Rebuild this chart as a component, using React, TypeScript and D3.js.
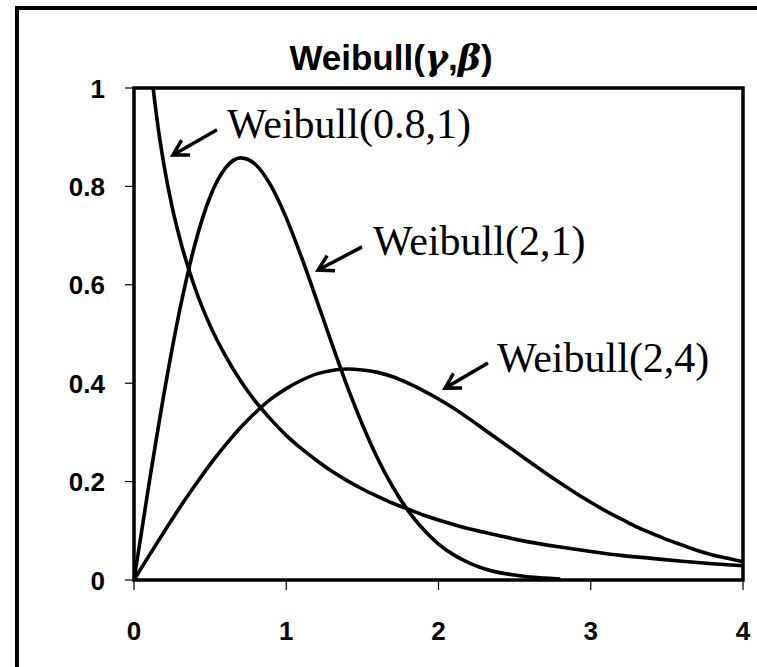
import React from "react";
import * as d3 from "d3";

// ---- data ----
const xTicks = [0, 1, 2, 3, 4];
const yTicks = [0, 0.2, 0.4, 0.6, 0.8, 1];
const yTickLabels = ["0", "0.2", "0.4", "0.6", "0.8", "1"];

const w08_1_x = [0.05, 0.1, 0.15, 0.2, 0.25, 0.3, 0.4, 0.5, 0.6, 0.7, 0.8, 0.9, 1.0, 1.1, 1.2, 1.3, 1.4, 1.5, 1.6, 1.7, 1.8, 1.9, 2.0, 2.2, 2.4, 2.6, 2.8, 3.0, 3.2, 3.4, 3.6, 3.8, 4.0];
const w08_1_y = [1.33, 1.082, 0.939, 0.838, 0.759, 0.695, 0.594, 0.517, 0.456, 0.405, 0.362, 0.326, 0.294, 0.267, 0.243, 0.221, 0.202, 0.185, 0.170, 0.156, 0.144, 0.132, 0.122, 0.104, 0.090, 0.077, 0.067, 0.058, 0.050, 0.044, 0.038, 0.033, 0.029];

const w2_1_x = [0, 0.1, 0.2, 0.3, 0.4, 0.5, 0.6, 0.7, 0.8, 0.9, 1.0, 1.1, 1.2, 1.3, 1.4, 1.5, 1.6, 1.7, 1.8, 1.9, 2.0, 2.1, 2.2, 2.3, 2.4, 2.5, 2.6, 2.7, 2.8];
const w2_1_y = [0, 0.198, 0.384, 0.548, 0.682, 0.779, 0.837, 0.858, 0.844, 0.801, 0.736, 0.656, 0.569, 0.480, 0.394, 0.316, 0.247, 0.189, 0.141, 0.103, 0.073, 0.051, 0.035, 0.023, 0.015, 0.010, 0.006, 0.004, 0.002];

const w2_4_x = [0, 0.1, 0.2, 0.3, 0.4, 0.5, 0.6, 0.7, 0.8, 0.9, 1.0, 1.1, 1.2, 1.3, 1.4, 1.5, 1.6, 1.7, 1.8, 1.9, 2.0, 2.1, 2.2, 2.3, 2.4, 2.5, 2.6, 2.7, 2.8, 2.9, 3.0, 3.1, 3.2, 3.3, 3.4, 3.5, 3.6, 3.7, 3.8, 3.9, 4.0];
const w2_4_y = [0, 0.050, 0.099, 0.147, 0.192, 0.235, 0.274, 0.310, 0.341, 0.368, 0.389, 0.406, 0.419, 0.426, 0.429, 0.427, 0.422, 0.413, 0.400, 0.385, 0.368, 0.349, 0.328, 0.306, 0.284, 0.262, 0.240, 0.218, 0.197, 0.177, 0.158, 0.140, 0.124, 0.108, 0.095, 0.082, 0.071, 0.060, 0.051, 0.044, 0.037];

const seriesNames = ["Weibull(0.8,1)", "Weibull(2,1)", "Weibull(2,4)"];
// annotation anchors in data units: text start, arrow tail, arrow tip
const labelX = [0.611, 1.570, 2.384];
const labelY = [0.898, 0.661, 0.423];
const tailX = [0.545, 1.498, 2.325];
const tailY = [0.915, 0.677, 0.441];
const tipX = [0.256, 1.209, 2.043];
const tipY = [0.864, 0.630, 0.390];

const W = 757;
const H = 667;
const left = 134, right = 743, top = 88, bottom = 580;

export default function App() {
  const x = d3.scaleLinear().domain([0, 4]).range([left, right]);
  const y = d3.scaleLinear().domain([0, 1]).range([bottom, top]);

  const series = [
    w08_1_x.map((v, i) => [v, w08_1_y[i]] as [number, number]),
    w2_1_x.map((v, i) => [v, w2_1_y[i]] as [number, number]),
    w2_4_x.map((v, i) => [v, w2_4_y[i]] as [number, number]),
  ];
  const line = d3
    .line<[number, number]>()
    .x((d) => x(d[0]))
    .y((d) => y(d[1]))
    .curve(d3.curveMonotoneX);

  const sans = "'Liberation Sans', Arial, sans-serif";
  const serif = "'Liberation Serif', 'Times New Roman', serif";

  const arrowHead = (tx: number, ty: number, sx: number, sy: number) => {
    const ang = Math.atan2(sy - ty, sx - tx);
    const len = 17;
    const spread = Math.PI / 6;
    const p1 = [tx + len * Math.cos(ang + spread), ty + len * Math.sin(ang + spread)];
    const p2 = [tx + len * Math.cos(ang - spread), ty + len * Math.sin(ang - spread)];
    return `M${p1[0]},${p1[1]}L${tx},${ty}L${p2[0]},${p2[1]}`;
  };

  return (
    <svg
      width={W}
      height={H}
      style={{ position: "absolute", left: 0, top: 0, background: "#fff" }}
    >
      <defs>
        <clipPath id="plotClip">
          <rect x={left} y={top} width={right - left} height={bottom - top} />
        </clipPath>
      </defs>
      {/* outer chart border (extends beyond the picture on right/bottom) */}
      <rect x={17} y={8} width={900} height={900} fill="none" stroke="#000" strokeWidth={4} />

      {/* title */}
      <text x={391} y={70} textAnchor="middle" fontFamily={sans} fontWeight="bold" fontSize={35}>
        Weibull(
        <tspan fontStyle="italic" fontFamily="'DejaVu Serif', serif" fontWeight="bold">γ</tspan>
        ,
        <tspan fontStyle="italic" fontFamily="'DejaVu Serif', serif" fontWeight="bold">β</tspan>
        )
      </text>

      {/* y ticks */}
      {yTicks.map((t, i) => (
        <g key={"y" + i}>
          <line x1={left - 9} x2={left} y1={y(t)} y2={y(t)} stroke="#000" strokeWidth={1.2} />
          <text
            x={105}
            y={y(t) + 9.5}
            textAnchor="end"
            fontFamily={sans}
            fontWeight="bold"
            fontSize={26}
          >
            {yTickLabels[i]}
          </text>
        </g>
      ))}

      {/* x ticks */}
      {xTicks.map((t, i) => (
        <g key={"x" + i}>
          <line x1={x(t)} x2={x(t)} y1={bottom} y2={bottom + 10} stroke="#000" strokeWidth={1.2} />
          <text x={x(t)} y={640} textAnchor="middle" fontFamily={sans} fontWeight="bold" fontSize={26}>
            {String(t)}
          </text>
        </g>
      ))}

      {/* curves */}
      <g clipPath="url(#plotClip)">
        {series.map((s, i) => (
          <path key={"s" + i} d={line(s) || ""} fill="none" stroke="#000" strokeWidth={3.6} />
        ))}
      </g>

      {/* plot frame */}
      <rect
        x={left}
        y={top}
        width={right - left}
        height={bottom - top}
        fill="none"
        stroke="#000"
        strokeWidth={3.5}
      />

      {/* annotations */}
      {seriesNames.map((name, i) => {
        const sx = x(tailX[i]);
        const sy = y(tailY[i]);
        const tx = x(tipX[i]);
        const ty = y(tipY[i]);
        return (
          <g key={"a" + i}>
            <text x={x(labelX[i])} y={y(labelY[i])} fontFamily={serif} fontSize={42}>
              {name}
            </text>
            <line x1={sx} y1={sy} x2={tx} y2={ty} stroke="#000" strokeWidth={3.5} />
            <path d={arrowHead(tx, ty, sx, sy)} fill="none" stroke="#000" strokeWidth={3.5} />
          </g>
        );
      })}
    </svg>
  );
}
